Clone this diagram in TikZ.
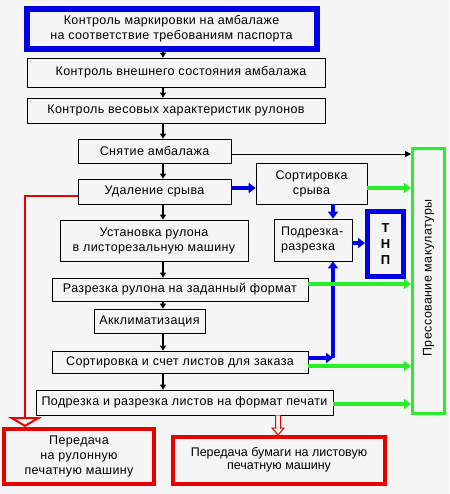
\documentclass[tikz,border=0pt]{standalone}
\usepackage{fontspec}
\setmainfont[LetterSpace=3]{Liberation Sans}
\usetikzlibrary{arrows.meta,calc}
\definecolor{bgc}{RGB}{245,245,245}
\definecolor{myblue}{RGB}{0,0,230}
\definecolor{mygreen}{RGB}{40,240,40}
\definecolor{myred}{RGB}{230,0,0}
\begin{document}
\begin{tikzpicture}[x=1pt,y=-1pt,
  every node/.style={font=\fontsize{12.5}{15}\selectfont, inner sep=0pt},
  box/.style={draw=black, line width=0.8pt, align=center},
  bluebox/.style={draw=myblue, line width=6pt, align=center},
  redbox/.style={draw=myred, line width=4pt, align=center},
  greenbox/.style={draw=mygreen, line width=3pt},
  blk/.style={draw=black, line width=1.6pt, -{Triangle[length=5pt,width=6pt]}},
  thinblk/.style={draw=black, line width=0.8pt, -{Triangle[length=6pt,width=6pt]}},
  blu/.style={draw=myblue, line width=4pt, -{Triangle[length=7pt,width=10pt]}},
  grn/.style={draw=mygreen, line width=4pt, -{Triangle[length=7pt,width=10pt]}},
]
\fill[bgc] (0,0) rectangle (449,494);
\useasboundingbox (0,0) rectangle (449,494);

\node[bluebox, minimum width=290, minimum height=39.5] (b1) at (171.5,29) {Контроль маркировки на амбалаже\\на соответствие требованиям паспорта};
\node[box, minimum width=298, minimum height=29] (b2) at (176,72.5) {\hspace*{10pt}Контроль внешнего состояния  амбалажа};
\node[box, minimum width=298, minimum height=25] (b3) at (176,110.5) {Контроль весовых характеристик рулонов};
\node[box, minimum width=153, minimum height=24] (sn) at (154.5,151) {Снятие амбалажа};
\node[box, minimum width=153, minimum height=25] (ud) at (154.5,191.5) {Удаление срыва};
\node[box, minimum width=111, minimum height=41] (ss) at (311.5,183.5) {Сортировка\\срыва};
\node[box, minimum width=188, minimum height=41] (us) at (154,240.5) {Установка рулона\\в листорезальную машину};
\node[box, minimum width=78, minimum height=42, align=left, text width=64] (pr) at (313,240) {Подрезка-\\разрезка};
\node[draw=myblue, line width=5pt, minimum width=36, minimum height=65, align=center, font=\bfseries\fontsize{13}{16}\selectfont] (tnp) at (385.5,244) {Т\\Н\\П};
\node[box, minimum width=256, minimum height=23] (rz) at (180,289.5) {Разрезка  рулона на заданный формат};
\node[box, minimum width=111, minimum height=24] (ak) at (149.5,321) {Акклиматизация};
\node[box, minimum width=256, minimum height=22] (sc) at (180,362) {Сортировка и счет листов для заказа};
\node[box, minimum width=297, minimum height=25] (pd) at (184.5,402.5) {Подрезка и разрезка листов на формат печати};
\node[greenbox, minimum width=32, minimum height=265] (gb) at (428.5,281) {};
\node[rotate=90] (gbt) at ($(gb.center)+(0,-3)$) {Прессование макулатуры};
\node[redbox, minimum width=150, minimum height=55] (r1) at (79,456.5) {Передача\\на рулонную\\печатную машину};
\node[redbox, minimum width=212, minimum height=47, font=\fontsize{12.5}{14}\selectfont\addfontfeature{LetterSpace=0}] (r2) at (279,460.5) {\raisebox{4pt}{\shortstack{Передача бумаги на листовую\\[1pt]печатную машину}}};

% main vertical chain
\coordinate (mx) at (163,0);
\draw[blk] (mx |- b1.south) -- (mx |- b2.north);
\draw[blk] (mx |- b2.south) -- (mx |- b3.north);
\draw[blk] (mx |- b3.south) -- (mx |- sn.north);
\draw[blk] (mx |- sn.south) -- (mx |- ud.north);
\draw[blk] (mx |- ud.south) -- (mx |- us.north);
\draw[blk] (mx |- us.south) -- (mx |- rz.north);
\draw[blk] (mx |- rz.south) -- (mx |- ak.north);
\draw[blk] (mx |- ak.south) -- (mx |- sc.north);
\draw[blk] (mx |- sc.south) -- (mx |- pd.north);

% black thin to pressing
\coordinate (ys) at (0,154);
\draw[thinblk] (sn.east |- ys) -- (gb.west |- ys);

% blue arrows
\coordinate (yb) at (0,188);
\draw[blu] (ud.east |- yb) -- (ss.west |- yb);
\coordinate (bx) at (333,0);
\draw[blu] (bx |- ss.south) -- (bx |- pr.north);
\coordinate (yt) at (0,243);
\draw[blu] (pr.east |- yt) -- (tnp.west |- yt);
\coordinate (bc) at (333,358);
\draw[blu] (sc.east |- bc) -- (bc);
\draw[blu] (bc) -- (bx |- pr.south);

% green arrows
\draw[grn] (ss.east |- yb) -- (gb.west |- yb);
\coordinate (y1) at (0,284);
\draw[grn] (rz.east |- y1) -- (gb.west |- y1);
\coordinate (y2) at (0,366);
\draw[grn] (sc.east |- y2) -- (gb.west |- y2);
\coordinate (y3) at (0,404);
\draw[grn] (pd.east |- y3) -- (gb.west |- y3);

% red line to r1
\coordinate (rx) at (25,0);
\coordinate (yr) at (0,196);
\draw[myred, line width=2pt, -{Triangle[open,length=10pt,width=34pt,line width=2pt]}] (ud.west |- yr) -- (rx |- yr) -- (rx |- r1.north);

% red hollow arrow to r2
\coordinate (hx) at (278,0);
\coordinate (h0) at (hx |- pd.south);
\coordinate (h1) at (hx |- r2.north);
\draw[myred, line width=1pt, fill=bgc]
  ($(h0)+(-2.5,0)$) -- ($(h1)+(-2.5,-7)$) -- ($(h1)+(-6,-7)$) -- (h1) -- ($(h1)+(6,-7)$) -- ($(h1)+(2.5,-7)$) -- ($(h0)+(2.5,0)$);
\end{tikzpicture}
\end{document}
